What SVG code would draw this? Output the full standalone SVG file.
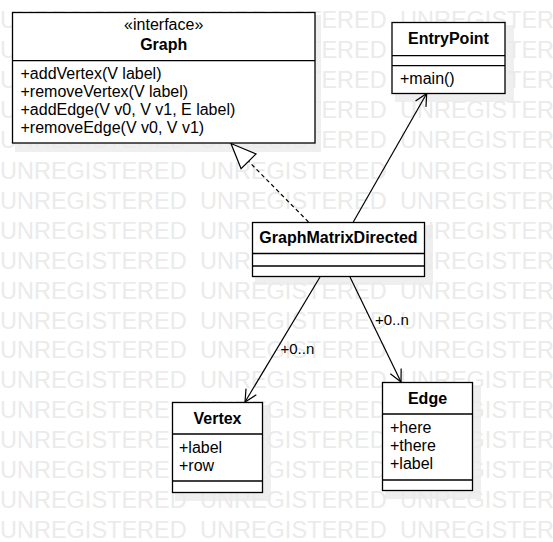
<svg xmlns="http://www.w3.org/2000/svg" xmlns:xlink="http://www.w3.org/1999/xlink" width="553" height="542" viewBox="0 0 553 542">
<style>
.wm{font-family:"Liberation Sans",Arial,sans-serif;font-size:23.5px;fill:#ebebeb}
.box{fill:#fff;stroke:#000;stroke-width:1.3}
.shadow{fill:#efefef}
.div{stroke:#000;stroke-width:1.3}
.t{font-family:"Liberation Sans",Arial,sans-serif;font-size:16px;fill:#000}
.b{font-weight:bold;text-anchor:middle}
.c{text-anchor:middle}
.lbl{font-family:"Liberation Sans",Arial,sans-serif;font-size:15px;fill:#000}
.edge{fill:none;stroke:#000;stroke-width:1.2}
</style>
<defs>
<marker id="open" markerUnits="userSpaceOnUse" markerWidth="14" markerHeight="14" refX="12" refY="6" orient="auto" overflow="visible">
<path d="M0,0 L12,6 L0,12" fill="none" stroke="#000" stroke-width="1.2"/>
</marker>
<marker id="tri" markerUnits="userSpaceOnUse" markerWidth="28" markerHeight="24" refX="25" refY="10.5" orient="auto" overflow="visible">
<path d="M0,0 L25,10.5 L0,21 Z" fill="#fff" stroke="#000" stroke-width="1.2"/>
</marker>
</defs>
<rect width="553" height="542" fill="#fff"/>
<g id="shadows">
<rect class="shadow" x="15" y="15" width="306" height="137"/>
<rect class="shadow" x="395" y="25" width="119" height="77"/>
<rect class="shadow" x="255" y="225" width="178" height="60"/>
<rect class="shadow" x="175" y="405" width="96" height="96"/>
<rect class="shadow" x="385" y="385" width="96" height="114"/>
</g>
<g id="watermark" class="wm">
<text y="28"><tspan x="0">UNREGISTERED</tspan><tspan x="200">UNREGISTERED</tspan><tspan x="400">UNREGISTERED</tspan></text>
<text y="58"><tspan x="0">UNREGISTERED</tspan><tspan x="200">UNREGISTERED</tspan><tspan x="400">UNREGISTERED</tspan></text>
<text y="88"><tspan x="0">UNREGISTERED</tspan><tspan x="200">UNREGISTERED</tspan><tspan x="400">UNREGISTERED</tspan></text>
<text y="118"><tspan x="0">UNREGISTERED</tspan><tspan x="200">UNREGISTERED</tspan><tspan x="400">UNREGISTERED</tspan></text>
<text y="148"><tspan x="0">UNREGISTERED</tspan><tspan x="200">UNREGISTERED</tspan><tspan x="400">UNREGISTERED</tspan></text>
<text y="179"><tspan x="0">UNREGISTERED</tspan><tspan x="200">UNREGISTERED</tspan><tspan x="400">UNREGISTERED</tspan></text>
<text y="209"><tspan x="0">UNREGISTERED</tspan><tspan x="200">UNREGISTERED</tspan><tspan x="400">UNREGISTERED</tspan></text>
<text y="239"><tspan x="0">UNREGISTERED</tspan><tspan x="200">UNREGISTERED</tspan><tspan x="400">UNREGISTERED</tspan></text>
<text y="269"><tspan x="0">UNREGISTERED</tspan><tspan x="200">UNREGISTERED</tspan><tspan x="400">UNREGISTERED</tspan></text>
<text y="299"><tspan x="0">UNREGISTERED</tspan><tspan x="200">UNREGISTERED</tspan><tspan x="400">UNREGISTERED</tspan></text>
<text y="329"><tspan x="0">UNREGISTERED</tspan><tspan x="200">UNREGISTERED</tspan><tspan x="400">UNREGISTERED</tspan></text>
<text y="358"><tspan x="0">UNREGISTERED</tspan><tspan x="200">UNREGISTERED</tspan><tspan x="400">UNREGISTERED</tspan></text>
<text y="388"><tspan x="0">UNREGISTERED</tspan><tspan x="200">UNREGISTERED</tspan><tspan x="400">UNREGISTERED</tspan></text>
<text y="418"><tspan x="0">UNREGISTERED</tspan><tspan x="200">UNREGISTERED</tspan><tspan x="400">UNREGISTERED</tspan></text>
<text y="448"><tspan x="0">UNREGISTERED</tspan><tspan x="200">UNREGISTERED</tspan><tspan x="400">UNREGISTERED</tspan></text>
<text y="478"><tspan x="0">UNREGISTERED</tspan><tspan x="200">UNREGISTERED</tspan><tspan x="400">UNREGISTERED</tspan></text>
<text y="508"><tspan x="0">UNREGISTERED</tspan><tspan x="200">UNREGISTERED</tspan><tspan x="400">UNREGISTERED</tspan></text>
<text y="538"><tspan x="0">UNREGISTERED</tspan><tspan x="200">UNREGISTERED</tspan><tspan x="400">UNREGISTERED</tspan></text>
</g>
<g id="connectors">
<path class="edge" d="M308.5,222 L231,143.5" stroke-dasharray="4,3" marker-end="url(#tri)"/>
<path class="edge" d="M353.3,222 L426.7,93.5" marker-end="url(#open)"/>
<path class="edge" d="M320,277 L245,402" marker-end="url(#open)"/>
<path class="edge" d="M350,277 L401,382" marker-end="url(#open)"/>
<text class="lbl" x="280.5" y="353.5">+0..n</text>
<text class="lbl" x="375" y="325">+0..n</text>
</g>
<g id="Graph">
<rect class="box" x="12.5" y="12.5" width="302.5" height="130.5"/>
<line class="div" x1="12.5" y1="60.7" x2="315" y2="60.7"/>
<text class="t c" x="163.7" y="29.5">«interface»</text>
<text class="t b" x="163.7" y="50">Graph</text>
<text class="t" x="20.5" y="79">+addVertex(V label)</text>
<text class="t" x="20.5" y="97">+removeVertex(V label)</text>
<text class="t" x="20.5" y="115">+addEdge(V v0, V v1, E label)</text>
<text class="t" x="20.5" y="133">+removeEdge(V v0, V v1)</text>
</g>
<g id="EntryPoint">
<rect class="box" x="392" y="22.5" width="113" height="71"/>
<line class="div" x1="392" y1="55.7" x2="505" y2="55.7"/>
<line class="div" x1="392" y1="65.7" x2="505" y2="65.7"/>
<text class="t b" x="448.5" y="44">EntryPoint</text>
<text class="t" x="400" y="84">+main()</text>
</g>
<g id="GraphMatrixDirected">
<rect class="box" x="252.5" y="222.5" width="172" height="54"/>
<line class="div" x1="252.5" y1="253.5" x2="424.5" y2="253.5"/>
<line class="div" x1="252.5" y1="266" x2="424.5" y2="266"/>
<text class="t b" x="338.5" y="243">GraphMatrixDirected</text>
</g>
<g id="Vertex">
<rect class="box" x="172.5" y="402.5" width="90" height="90"/>
<line class="div" x1="172.5" y1="434" x2="262.5" y2="434"/>
<line class="div" x1="172.5" y1="481" x2="262.5" y2="481"/>
<text class="t b" x="217.5" y="423.5">Vertex</text>
<text class="t" x="179" y="453">+label</text>
<text class="t" x="179" y="471">+row</text>
</g>
<g id="Edge">
<rect class="box" x="382.5" y="382.5" width="90" height="108"/>
<line class="div" x1="382.5" y1="414" x2="472.5" y2="414"/>
<line class="div" x1="382.5" y1="480" x2="472.5" y2="480"/>
<text class="t b" x="427.5" y="403.5">Edge</text>
<text class="t" x="390" y="432.5">+here</text>
<text class="t" x="390" y="450.5">+there</text>
<text class="t" x="390" y="469">+label</text>
</g>
</svg>
